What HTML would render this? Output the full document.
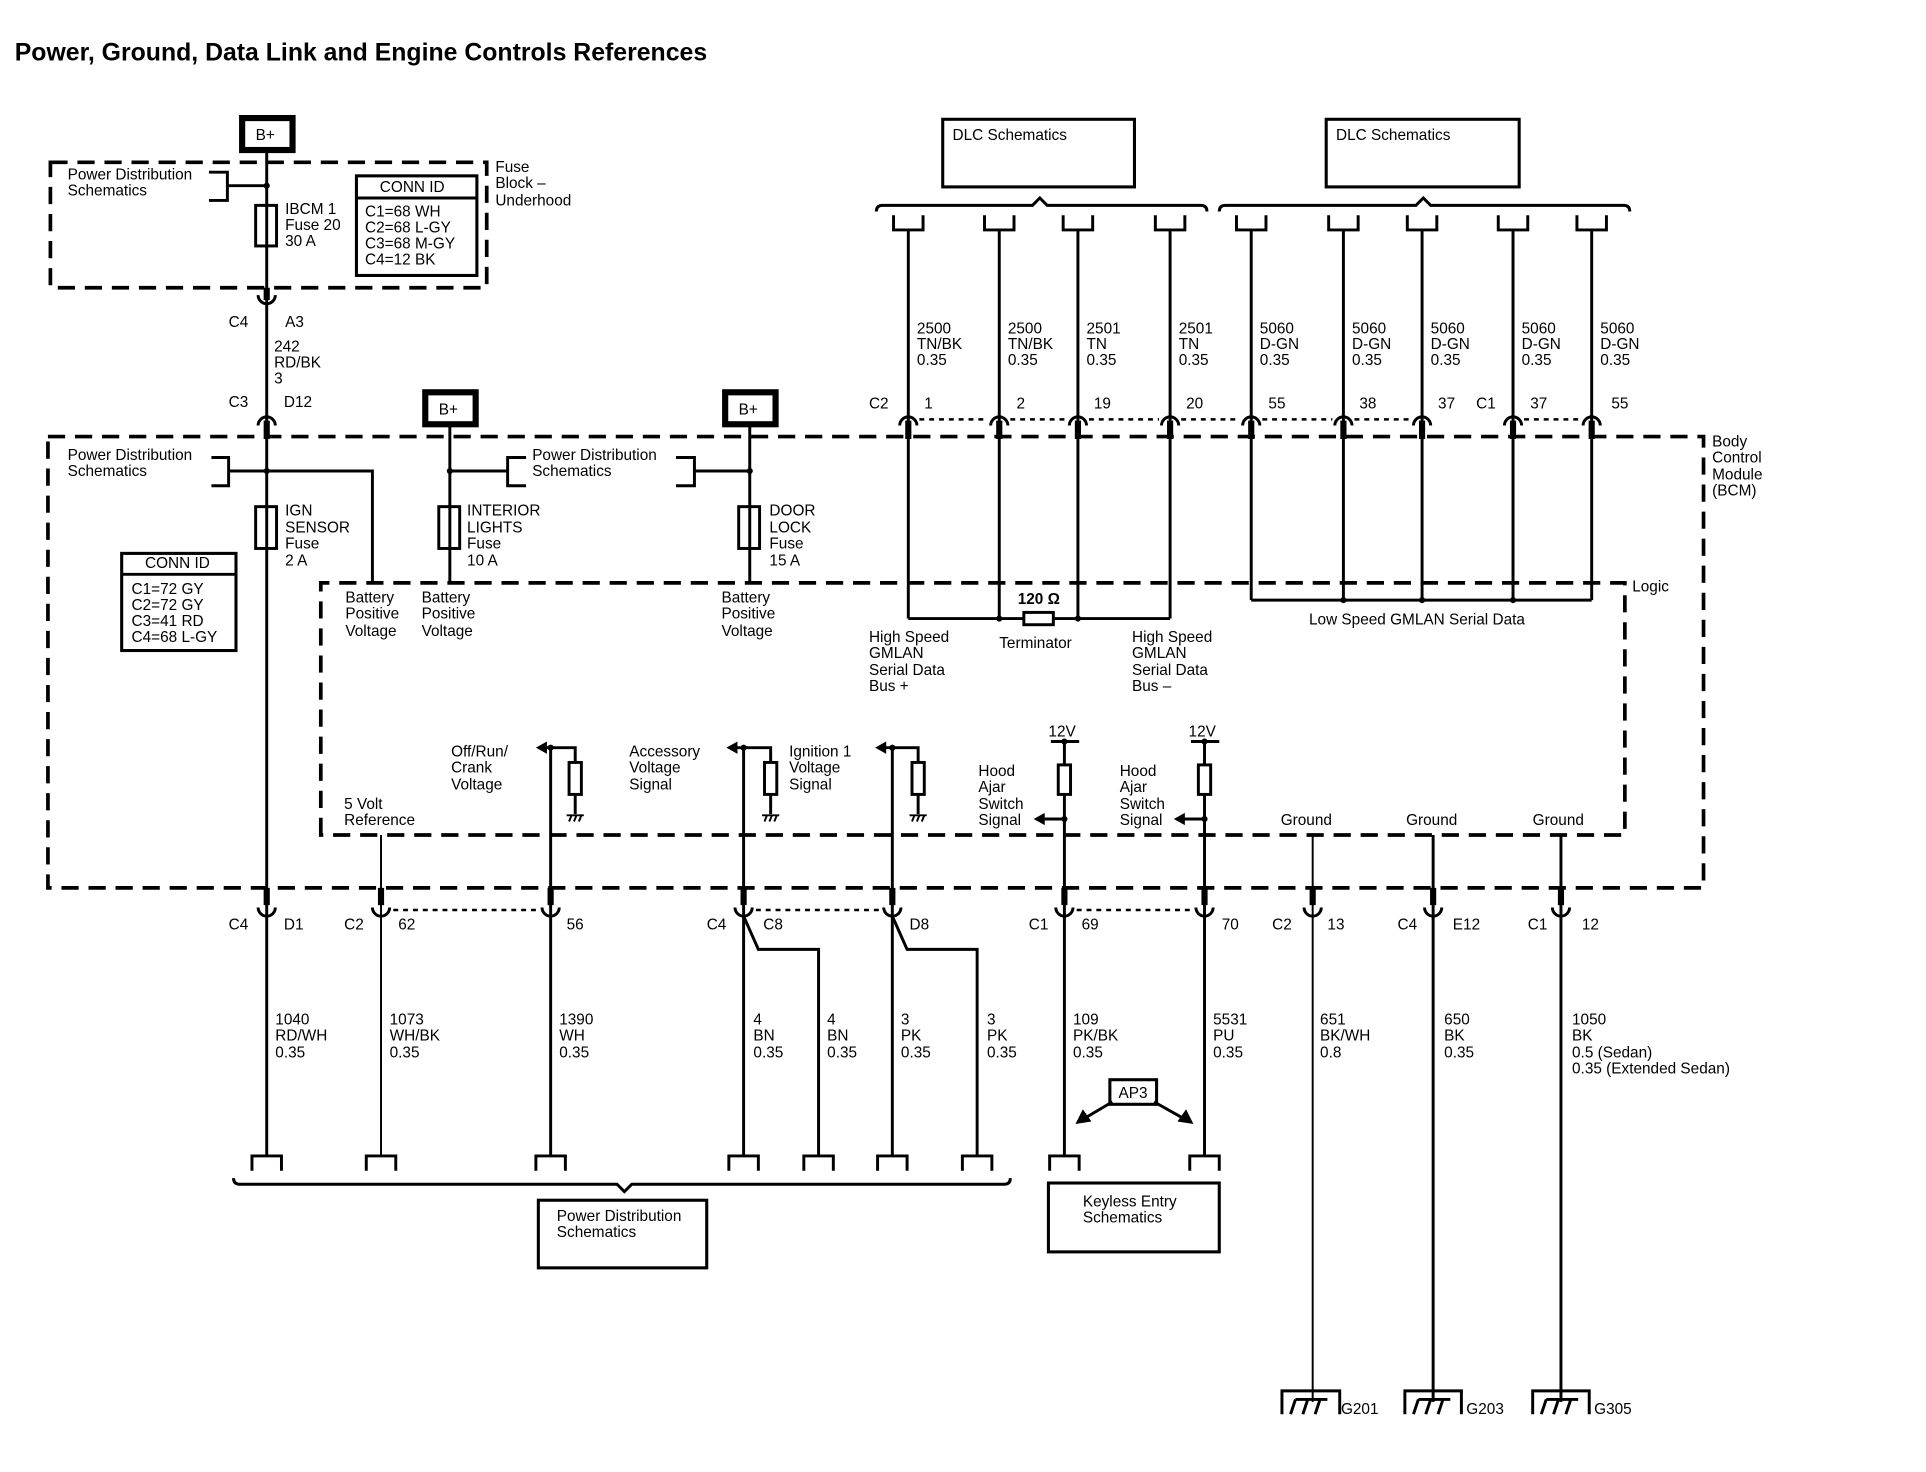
<!DOCTYPE html>
<html><head><meta charset="utf-8"><style>
html,body{margin:0;padding:0;background:#fff;}
svg{display:block;}
text{font-family:"Liberation Sans",sans-serif;font-size:12.5px;fill:#000;}
.b{font-weight:bold;}
.w{stroke:#000;stroke-width:2.4;fill:none;}
.t{stroke:#000;stroke-width:1.6;fill:none;}
.d{stroke:#000;stroke-width:3;fill:none;stroke-dasharray:14 8;}
.dt{stroke:#000;stroke-width:2;fill:none;stroke-dasharray:4 4;}
.k{stroke:#000;stroke-width:5;fill:none;}
</style></head><body>
<svg width="1926" height="1472" viewBox="0 0 1567 1197" preserveAspectRatio="none" xmlns="http://www.w3.org/2000/svg">
<text x="12" y="49" class="b" style="font-size:20.2px">Power, Ground, Data Link and Engine Controls References</text>

<!-- B+ boxes -->
<rect x="197" y="96" width="41" height="26" fill="none" stroke="#000" stroke-width="5"/><text x="208" y="114">B+</text>
<rect x="346" y="319" width="41" height="26" fill="none" stroke="#000" stroke-width="5"/><text x="357" y="337">B+</text>
<rect x="590" y="319" width="41" height="26" fill="none" stroke="#000" stroke-width="5"/><text x="601" y="337">B+</text>

<!-- Fuse block -->
<rect x="41" y="132" width="355" height="102" class="d"/>
<text x="403" y="140">Fuse</text><text x="403" y="153">Block –</text><text x="403" y="167">Underhood</text>
<text x="55" y="146">Power Distribution</text><text x="55" y="159">Schematics</text>
<path d="M170 140H185V163H170M185 151H217" class="w"/>
<circle cx="217" cy="151" r="2.5"/>
<rect x="208" y="167" width="17" height="33" class="w"/>
<text x="232" y="174">IBCM 1</text><text x="232" y="187">Fuse 20</text><text x="232" y="200">30 A</text>
<rect x="290" y="143" width="98" height="81" fill="none" stroke="#000" stroke-width="2.5"/>
<line x1="290" y1="161" x2="388" y2="161" class="w"/>
<text x="309" y="156">CONN ID</text>
<text x="297" y="176">C1=68 WH</text><text x="297" y="189">C2=68 L-GY</text><text x="297" y="202">C3=68 M-GY</text><text x="297" y="215">C4=12 BK</text>

<!-- main wire 217 -->
<path d="M217 122V940" class="w"/>
<path d="M217 234V244" class="k"/><path d="M210 240A7 7 0 0 0 224 240" class="w"/>
<text x="186" y="266">C4</text><text x="232" y="266">A3</text>
<text x="223" y="286">242</text><text x="223" y="299">RD/BK</text><text x="223" y="312">3</text>
<text x="186" y="331">C3</text><text x="231" y="331">D12</text>
<path d="M210 346A7 7 0 0 1 224 346" class="w"/><path d="M217 342V357" class="k"/>

<!-- BCM and logic boxes -->
<path d="M39 355H1386V722H39Z" class="d"/>
<text x="1393" y="363">Body</text><text x="1393" y="376">Control</text><text x="1393" y="390">Module</text><text x="1393" y="403">(BCM)</text>
<path d="M261 679V474H1322V679Z" class="d"/>
<text x="1328" y="481">Logic</text>

<text x="55" y="374">Power Distribution</text><text x="55" y="387">Schematics</text>
<path d="M172 372H186V395H172M186 383H303V474" class="w"/>
<circle cx="217" cy="383" r="2.5"/>
<rect x="208" y="412" width="17" height="34" class="w"/>
<text x="232" y="419">IGN</text><text x="232" y="433">SENSOR</text><text x="232" y="446">Fuse</text><text x="232" y="460">2 A</text>
<rect x="99" y="450" width="93" height="79" fill="none" stroke="#000" stroke-width="2.5"/>
<line x1="99" y1="467" x2="192" y2="467" class="w"/>
<text x="118" y="462">CONN ID</text>
<text x="107" y="483">C1=72 GY</text><text x="107" y="496">C2=72 GY</text><text x="107" y="509">C3=41 RD</text><text x="107" y="522">C4=68 L-GY</text>
<text x="281" y="490">Battery</text><text x="281" y="503">Positive</text><text x="281" y="517">Voltage</text>

<path d="M366 345V474M366 383H413M428 372H413V395H428" class="w"/><circle cx="366" cy="383" r="2.5"/>
<rect x="357" y="412" width="17" height="34" class="w"/>
<text x="380" y="419">INTERIOR</text><text x="380" y="433">LIGHTS</text><text x="380" y="446">Fuse</text><text x="380" y="460">10 A</text>
<text x="343" y="490">Battery</text><text x="343" y="503">Positive</text><text x="343" y="517">Voltage</text>
<text x="433" y="374">Power Distribution</text><text x="433" y="387">Schematics</text>
<path d="M550 372H565V395H550M565 383H610M610 345V474" class="w"/><circle cx="610" cy="383" r="2.5"/>
<rect x="601" y="412" width="17" height="34" class="w"/>
<text x="626" y="419">DOOR</text><text x="626" y="433">LOCK</text><text x="626" y="446">Fuse</text><text x="626" y="460">15 A</text>
<text x="587" y="490">Battery</text><text x="587" y="503">Positive</text><text x="587" y="517">Voltage</text>

<!-- DLC -->
<rect x="767" y="97" width="156" height="55" fill="none" stroke="#000" stroke-width="2.5"/><text x="775" y="114">DLC Schematics</text>
<rect x="1079" y="97" width="157" height="55" fill="none" stroke="#000" stroke-width="2.5"/><text x="1087" y="114">DLC Schematics</text>
<path d="M713 172Q713 167 718 167H840L846 161L852 167H977Q982 167 982 172" class="w"/>
<path d="M992 172Q992 167 997 167H1152L1158 161L1164 167H1321Q1326 167 1326 172" class="w"/>
<g class="w">
<path d="M727 175V187H751V175M801 175V187H825V175M865 175V187H889V175M940 175V187H964V175M1006 175V187H1030V175M1081 175V187H1105V175M1145 175V187H1169V175M1219 175V187H1243V175M1283 175V187H1307V175"/>
<path d="M739 187V503M813 187V503M877 187V503M952 187V503M1018 187V488M1093 187V488M1157 187V488M1231 187V488M1295 187V488"/>
<path d="M739 503H833M857 503H952M1018 488H1295"/>
</g>
<rect x="833" y="498" width="24" height="10" class="w"/>
<circle cx="813" cy="503" r="2.5"/><circle cx="877" cy="503" r="2.5"/>
<circle cx="1093" cy="488" r="2.5"/><circle cx="1157" cy="488" r="2.5"/><circle cx="1231" cy="488" r="2.5"/>
<g class="w">
<path d="M732 346A7 7 0 0 1 746 346M806 346A7 7 0 0 1 820 346M870 346A7 7 0 0 1 884 346M945 346A7 7 0 0 1 959 346M1011 346A7 7 0 0 1 1025 346M1086 346A7 7 0 0 1 1100 346M1150 346A7 7 0 0 1 1164 346M1224 346A7 7 0 0 1 1238 346M1288 346A7 7 0 0 1 1302 346"/>
</g>
<path d="M739 342V357M813 342V357M877 342V357M952 342V357M1018 342V357M1093 342V357M1157 342V357M1231 342V357M1295 342V357" class="k"/>
<path d="M748 341H804M822 341H868M886 341H943M961 341H1009M1027 341H1084M1102 341H1148M1240 341H1286" class="dt"/>
<g>
<text x="746" y="271">2500</text><text x="746" y="284">TN/BK</text><text x="746" y="297">0.35</text>
<text x="820" y="271">2500</text><text x="820" y="284">TN/BK</text><text x="820" y="297">0.35</text>
<text x="884" y="271">2501</text><text x="884" y="284">TN</text><text x="884" y="297">0.35</text>
<text x="959" y="271">2501</text><text x="959" y="284">TN</text><text x="959" y="297">0.35</text>
<text x="1025" y="271">5060</text><text x="1025" y="284">D-GN</text><text x="1025" y="297">0.35</text>
<text x="1100" y="271">5060</text><text x="1100" y="284">D-GN</text><text x="1100" y="297">0.35</text>
<text x="1164" y="271">5060</text><text x="1164" y="284">D-GN</text><text x="1164" y="297">0.35</text>
<text x="1238" y="271">5060</text><text x="1238" y="284">D-GN</text><text x="1238" y="297">0.35</text>
<text x="1302" y="271">5060</text><text x="1302" y="284">D-GN</text><text x="1302" y="297">0.35</text>
<text x="707" y="332">C2</text><text x="752" y="332">1</text><text x="827" y="332">2</text><text x="890" y="332">19</text><text x="965" y="332">20</text>
<text x="1032" y="332">55</text><text x="1106" y="332">38</text><text x="1170" y="332">37</text><text x="1201" y="332">C1</text><text x="1245" y="332">37</text><text x="1311" y="332">55</text>
</g>
<text x="828" y="491" class="b">120 Ω</text>
<text x="813" y="527">Terminator</text>
<text x="707" y="522">High Speed</text><text x="707" y="535">GMLAN</text><text x="707" y="549">Serial Data</text><text x="707" y="562">Bus +</text>
<text x="921" y="522">High Speed</text><text x="921" y="535">GMLAN</text><text x="921" y="549">Serial Data</text><text x="921" y="562">Bus –</text>
<text x="1065" y="508">Low Speed GMLAN Serial Data</text>

<!-- Inputs -->
<text x="280" y="658">5 Volt</text><text x="280" y="671">Reference</text>
<path d="M310 679V940" class="t"/>
<text x="367" y="615">Off/Run/</text><text x="367" y="628">Crank</text><text x="367" y="642">Voltage</text>
<text x="512" y="615">Accessory</text><text x="512" y="628">Voltage</text><text x="512" y="642">Signal</text>
<text x="642" y="615">Ignition 1</text><text x="642" y="628">Voltage</text><text x="642" y="642">Signal</text>
<g class="w">
<path d="M443 608H468V620M468 646V662M448 608V940"/>
<path d="M598 608H627V620M627 646V662M605 608V940"/>
<path d="M719 608H747V620M747 646V662M726 608V940"/>
</g>
<rect x="463" y="620" width="10" height="26" class="w"/><rect x="622" y="620" width="10" height="26" class="w"/><rect x="742" y="620" width="10" height="26" class="w"/>
<path d="M436 608L445 603V613Z M591 608L600 603V613Z M712 608L721 603V613Z"/>
<circle cx="448" cy="608" r="2.5"/><circle cx="605" cy="608" r="2.5"/><circle cx="726" cy="608" r="2.5"/>
<g class="t"><path d="M461 663H475M463 668L465 663M467 668L469 663M471 668L473 663"/>
<path d="M620 663H634M622 668L624 663M626 668L628 663M630 668L632 663"/>
<path d="M740 663H754M742 668L744 663M746 668L748 663M750 668L752 663"/></g>

<text x="853" y="599">12V</text><text x="967" y="599">12V</text>
<path d="M855 603H878M969 603H992M866 603V622M866 646V940M980 603V622M980 646V940M848 666H866M962 666H980" class="w"/>
<rect x="861" y="622" width="10" height="24" class="w"/><rect x="975" y="622" width="10" height="24" class="w"/>
<circle cx="866" cy="603" r="2.5"/><circle cx="980" cy="603" r="2.5"/><circle cx="866" cy="666" r="2.5"/><circle cx="980" cy="666" r="2.5"/>
<path d="M841 666L850 661V671Z M955 666L964 661V671Z"/>
<text x="796" y="631">Hood</text><text x="796" y="644">Ajar</text><text x="796" y="658">Switch</text><text x="796" y="671">Signal</text>
<text x="911" y="631">Hood</text><text x="911" y="644">Ajar</text><text x="911" y="658">Switch</text><text x="911" y="671">Signal</text>
<text x="1042" y="671">Ground</text><text x="1144" y="671">Ground</text><text x="1247" y="671">Ground</text>
<path d="M1068 679V1140" class="t"/><path d="M1166 679V1140M1270 679V1140" class="w"/>

<!-- bottom connectors -->
<path d="M217 722V736M310 722V736M448 722V736M605 722V736M726 722V736M866 722V736M980 722V736M1068 722V736M1166 722V736M1270 722V736" class="k"/>
<g class="w"><path d="M210 738A7 7 0 0 0 224 738M303 738A7 7 0 0 0 317 738M441 738A7 7 0 0 0 455 738M598 738A7 7 0 0 0 612 738M719 738A7 7 0 0 0 733 738M859 738A7 7 0 0 0 873 738M973 738A7 7 0 0 0 987 738M1061 738A7 7 0 0 0 1075 738M1159 738A7 7 0 0 0 1173 738M1263 738A7 7 0 0 0 1277 738"/></g>
<path d="M320 740H438M615 740H716M876 740H970" class="dt"/>
<text x="186" y="756">C4</text><text x="231" y="756">D1</text><text x="280" y="756">C2</text><text x="324" y="756">62</text><text x="461" y="756">56</text>
<text x="575" y="756">C4</text><text x="621" y="756">C8</text><text x="740" y="756">D8</text>
<text x="837" y="756">C1</text><text x="880" y="756">69</text><text x="994" y="756">70</text>
<text x="1035" y="756">C2</text><text x="1080" y="756">13</text><text x="1137" y="756">C4</text><text x="1182" y="756">E12</text><text x="1243" y="756">C1</text><text x="1287" y="756">12</text>
<path d="M605 745L617 772H666V940M726 745L738 772H795V940" class="w"/>

<g>
<text x="224" y="833">1040</text><text x="224" y="846">RD/WH</text><text x="224" y="860">0.35</text>
<text x="317" y="833">1073</text><text x="317" y="846">WH/BK</text><text x="317" y="860">0.35</text>
<text x="455" y="833">1390</text><text x="455" y="846">WH</text><text x="455" y="860">0.35</text>
<text x="613" y="833">4</text><text x="613" y="846">BN</text><text x="613" y="860">0.35</text>
<text x="673" y="833">4</text><text x="673" y="846">BN</text><text x="673" y="860">0.35</text>
<text x="733" y="833">3</text><text x="733" y="846">PK</text><text x="733" y="860">0.35</text>
<text x="803" y="833">3</text><text x="803" y="846">PK</text><text x="803" y="860">0.35</text>
<text x="873" y="833">109</text><text x="873" y="846">PK/BK</text><text x="873" y="860">0.35</text>
<text x="987" y="833">5531</text><text x="987" y="846">PU</text><text x="987" y="860">0.35</text>
<text x="1074" y="833">651</text><text x="1074" y="846">BK/WH</text><text x="1074" y="860">0.8</text>
<text x="1175" y="833">650</text><text x="1175" y="846">BK</text><text x="1175" y="860">0.35</text>
<text x="1279" y="833">1050</text><text x="1279" y="846">BK</text><text x="1279" y="860">0.5 (Sedan)</text><text x="1279" y="873">0.35 (Extended Sedan)</text>
</g>

<!-- bottom pins -->
<g class="w"><path d="M205 952V940H229V952M298 952V940H322V952M436 952V940H460V952M593 952V940H617V952M654 952V940H678V952M714 952V940H738V952M783 952V940H807V952M854 952V940H878V952M968 952V940H992V952"/></g>
<path d="M190 958Q190 963 195 963H502L508 969L514 963H817Q822 963 822 958" class="w"/>
<rect x="438" y="976" width="137" height="55" fill="none" stroke="#000" stroke-width="2.5"/>
<text x="453" y="993">Power Distribution</text><text x="453" y="1006">Schematics</text>
<rect x="853" y="962" width="139" height="56" fill="none" stroke="#000" stroke-width="2.5"/>
<text x="881" y="981">Keyless Entry</text><text x="881" y="994">Schematics</text>
<rect x="903" y="878" width="38" height="20" fill="none" stroke="#000" stroke-width="2.5"/><text x="910" y="893">AP3</text>
<path d="M905 896L883 909M939 896L962 909" class="w"/>
<path d="M875 914L881 902L888 912Z M971 914L958 912L965 902Z"/>

<!-- grounds -->
<g class="w">
<path d="M1043 1150V1131H1090V1150M1050 1150L1054 1138M1060 1150L1064 1138M1070 1150L1074 1138M1054 1138H1080"/>
<path d="M1143 1150V1131H1189V1150M1150 1150L1154 1138M1160 1150L1164 1138M1170 1150L1174 1138M1154 1138H1180"/>
<path d="M1247 1150V1131H1293V1150M1254 1150L1258 1138M1264 1150L1268 1138M1274 1150L1278 1138M1258 1138H1284"/>
</g>
<text x="1091" y="1150">G201</text><text x="1193" y="1150">G203</text><text x="1297" y="1150">G305</text>
</svg>
</body></html>
